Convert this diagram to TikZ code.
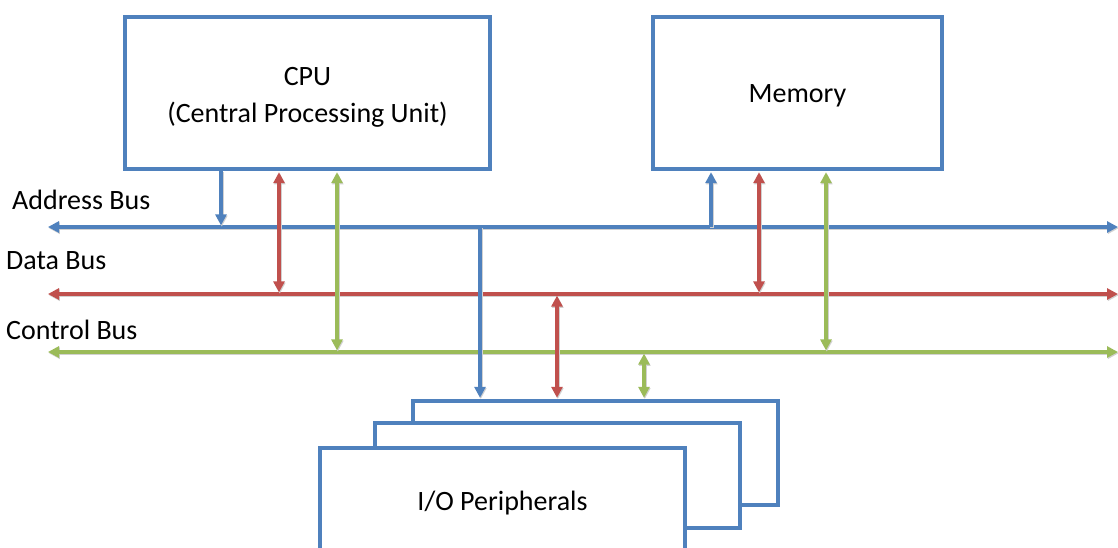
\documentclass[tikz,border=0pt]{standalone}
\usepackage{fontspec}
\setmainfont{Carlito}
\usetikzlibrary{arrows.meta}
\definecolor{obl}{HTML}{4F81BD}
\definecolor{ord}{HTML}{C0504D}
\definecolor{ogr}{HTML}{9BBB59}
\tikzset{
  box/.style={draw=obl, line width=3.2pt, fill=white, inner sep=0pt},
  txt/.style={inner sep=0pt, align=center, font=\fontsize{28}{37}\selectfont},
  lbl/.style={anchor=west, inner sep=0pt, font=\fontsize{28}{35}\selectfont},
  tip/.style={-{Triangle[length=11pt,width=11pt]}},
  dtip/.style={{Triangle[length=11pt,width=11pt]}-{Triangle[length=11pt,width=11pt]}},
  shd/.style={preaction={draw=black!18, line width=3.4pt, transform canvas={xshift=0.8pt,yshift=-1.2pt}}},
  bl/.style={draw=obl, line width=3.2pt, shd},
  rd/.style={draw=ord, line width=3.2pt, shd},
  gr/.style={draw=ogr, line width=3.2pt, shd},
  sh/.style={shorten >=1.6pt, shorten <=1.6pt}
}
\begin{document}
\begin{tikzpicture}[x=1pt,y=-1pt]
\useasboundingbox (0,0) rectangle (1118,548);
\clip (0,0) rectangle (1118,548);
% boxes
\node[box, minimum width=365pt, minimum height=152pt] (cpu) at (307.5,93) {};
\node[txt] (cputext) at (307.5,97) {CPU\\(Central Processing Unit)};
\node[box, minimum width=289pt, minimum height=152pt] (mem) at (797.5,93) {};
\node[txt] (memtext) at (797.5,96) {Memory};
\node[box, minimum width=365pt, minimum height=104pt] (io3) at (595.5,453) {};
\node[box, minimum width=365pt, minimum height=105pt] (io2) at (557.5,475.5) {};
\node[box, minimum width=365pt, minimum height=124pt] (io1) at (502.5,510) {};
\node[txt] (iotext) at (502.5,503) {I/O Peripherals};
% bus labels
\node[lbl] (labA) at (12,200) {Address Bus};
\node[lbl] (labD) at (6,261) {Data Bus};
\node[lbl] (labC) at (6,330) {Control Bus};
% bus coordinates
\coordinate (aL) at (48,227); \coordinate (aR) at (1118,227);
\coordinate (dL) at (48,294); \coordinate (dR) at (1118,294);
\coordinate (cL) at (48,352); \coordinate (cR) at (1118,352);
% buses
\draw[bl,dtip] (aL) -- (aR);
\draw[rd,dtip] (dL) -- (dR);
\draw[gr,dtip] (cL) -- (cR);
% tap points
\coordinate (p1) at (221,227);
\coordinate (p2) at (279,294);
\coordinate (p3) at (337,352);
\coordinate (m1) at (711,227);
\coordinate (m2) at (759,294);
\coordinate (m3) at (826,352);
\coordinate (i1) at (480,227);
\coordinate (i2) at (557,294);
\coordinate (i3) at (644,352);
% CPU links
\draw[bl,tip,shorten >=1.6pt] (cpu.south -| p1) -- (p1);
\draw[rd,dtip,sh] (cpu.south -| p2) -- (p2);
\draw[gr,dtip,sh] (cpu.south -| p3) -- (p3);
% Memory links
\draw[bl,tip,shorten >=1.6pt] (m1) -- (mem.south -| m1);
\draw[rd,dtip,sh] (mem.south -| m2) -- (m2);
\draw[gr,dtip,sh] (mem.south -| m3) -- (m3);
% I/O links
\draw[bl,tip,shorten >=1.6pt] (i1) -- (io3.north -| i1);
\draw[rd,dtip,sh] (i2) -- (io3.north -| i2);
\draw[gr,dtip,sh] (i3) -- (io3.north -| i3);
\end{tikzpicture}
\end{document}
